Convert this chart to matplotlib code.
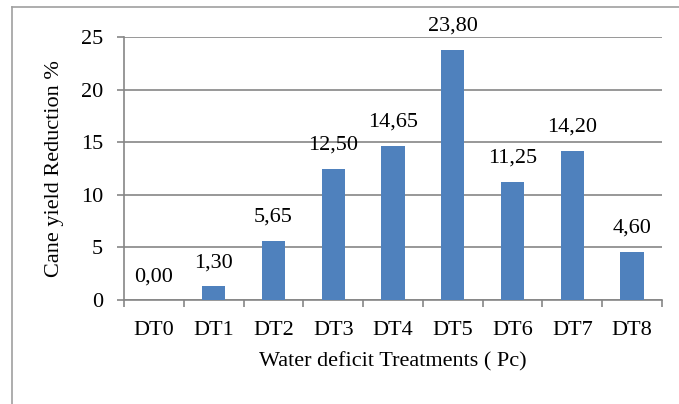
import matplotlib
matplotlib.use("Agg")
import matplotlib.pyplot as plt
from matplotlib.lines import Line2D

categories = ["DT0", "DT1", "DT2", "DT3", "DT4", "DT5", "DT6", "DT7", "DT8"]
values = [0.00, 1.30, 5.65, 12.50, 14.65, 23.80, 11.25, 14.20, 4.60]
labels = ["0,00", "1,30", "5,65", "12,50", "14,65", "23,80", "11,25", "14,20", "4,60"]
yticks = [0, 5, 10, 15, 20, 25]

plt.rcParams['font.family'] = ['Liberation Serif', 'DejaVu Serif']
FS = 16
W, H = 679, 404
fig = plt.figure(figsize=(W/100, H/100), dpi=100)
ax = fig.add_axes([124/W, 1-300/H, (662-124)/W, (300-37)/H])

grid_c = "#868686"
x = list(range(len(categories)))
ax.bar(x, values, width=0.39, color="#4F81BD", zorder=3)
for xi, v, lab in zip(x, values, labels):
    ax.annotate(lab, (xi, v), xytext=(0, 10), textcoords="offset points",
                ha="center", va="bottom", fontsize=FS)

ax.set_xlim(-0.5, len(categories) - 0.5)
ax.set_ylim(0, 25)
ax.set_yticks(yticks)
ax.set_yticklabels([str(t) for t in yticks], fontsize=FS)
ax.yaxis.grid(True, color=grid_c, linewidth=1.2, zorder=0)
ax.set_xticks(x)
ax.set_xticklabels(categories, fontsize=FS)
ax.set_xticks([i - 0.5 for i in range(len(categories) + 1)], minor=True)
ax.tick_params(axis='x', which='major', length=0, pad=15)
ax.tick_params(axis='x', which='minor', length=5, color=grid_c, width=1.2)
ax.tick_params(axis='y', length=5, color=grid_c, width=1.2, pad=10)
for s in ["top", "right"]:
    ax.spines[s].set_visible(False)
for s in ["left", "bottom"]:
    ax.spines[s].set_color(grid_c)
    ax.spines[s].set_linewidth(1.2)

ax.set_ylabel("Cane yield Reduction %", fontsize=FS, labelpad=12)
ax.set_xlabel("Water deficit Treatments ( Pc)", fontsize=FS, labelpad=9)

# outer chart frame
fig.add_artist(Line2D([12/W, 12/W], [0, 1-7/H], transform=fig.transFigure, color="#A0A0A0", lw=1.2))
fig.add_artist(Line2D([12/W, 1], [1-7/H, 1-7/H], transform=fig.transFigure, color="#A0A0A0", lw=1.2))

fig.savefig("out.png", dpi=100)
